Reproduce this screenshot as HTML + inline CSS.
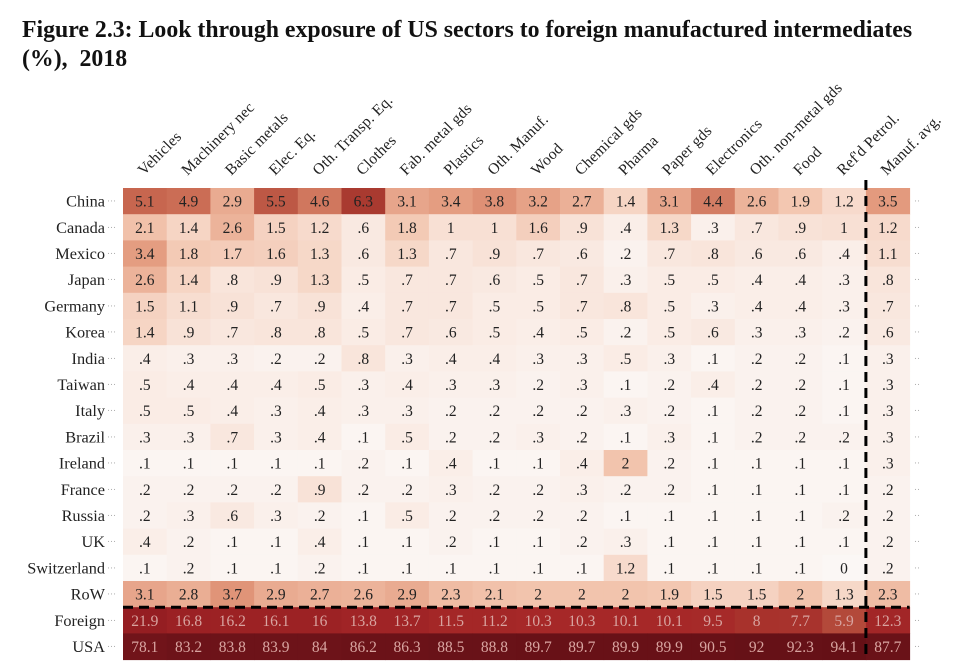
<!DOCTYPE html>
<html><head><meta charset="utf-8"><style>
body{margin:0;background:#fff;width:975px;height:664px;overflow:hidden;font-family:"Liberation Serif",serif;}
#title{position:absolute;left:22px;top:16px;font-weight:bold;font-size:23.8px;line-height:29px;color:#111;white-space:nowrap;}
</style></head><body>
<div id="title">Figure 2.3: Look through exposure of US sectors to foreign manufactured intermediates<br>(%),&nbsp; 2018</div>
<svg id="chart" width="975" height="664" style="position:absolute;left:0;top:0"></svg>
<script>
const sectors=["Vehicles","Machinery nec","Basic metals","Elec. Eq.","Oth. Transp. Eq.","Clothes","Fab. metal gds","Plastics","Oth. Manuf.","Wood","Chemical gds","Pharma","Paper gds","Electronics","Oth. non-metal gds","Food","Ref'd Petrol.","Manuf. avg."];
const countries=["China","Canada","Mexico","Japan","Germany","Korea","India","Taiwan","Italy","Brazil","Ireland","France","Russia","UK","Switzerland","RoW","Foreign","USA"];
const values=[
[5.1,4.9,2.9,5.5,4.6,6.3,3.1,3.4,3.8,3.2,2.7,1.4,3.1,4.4,2.6,1.9,1.2,3.5],
[2.1,1.4,2.6,1.5,1.2,.6,1.8,1,1,1.6,.9,.4,1.3,.3,.7,.9,1,1.2],
[3.4,1.8,1.7,1.6,1.3,.6,1.3,.7,.9,.7,.6,.2,.7,.8,.6,.6,.4,1.1],
[2.6,1.4,.8,.9,1.3,.5,.7,.7,.6,.5,.7,.3,.5,.5,.4,.4,.3,.8],
[1.5,1.1,.9,.7,.9,.4,.7,.7,.5,.5,.7,.8,.5,.3,.4,.4,.3,.7],
[1.4,.9,.7,.8,.8,.5,.7,.6,.5,.4,.5,.2,.5,.6,.3,.3,.2,.6],
[.4,.3,.3,.2,.2,.8,.3,.4,.4,.3,.3,.5,.3,.1,.2,.2,.1,.3],
[.5,.4,.4,.4,.5,.3,.4,.3,.3,.2,.3,.1,.2,.4,.2,.2,.1,.3],
[.5,.5,.4,.3,.4,.3,.3,.2,.2,.2,.2,.3,.2,.1,.2,.2,.1,.3],
[.3,.3,.7,.3,.4,.1,.5,.2,.2,.3,.2,.1,.3,.1,.2,.2,.2,.3],
[.1,.1,.1,.1,.1,.2,.1,.4,.1,.1,.4,2,.2,.1,.1,.1,.1,.3],
[.2,.2,.2,.2,.9,.2,.2,.3,.2,.2,.3,.2,.2,.1,.1,.1,.1,.2],
[.2,.3,.6,.3,.2,.1,.5,.2,.2,.2,.2,.1,.1,.1,.1,.1,.2,.2],
[.4,.2,.1,.1,.4,.1,.1,.2,.1,.1,.2,.3,.1,.1,.1,.1,.1,.2],
[.1,.2,.1,.1,.2,.1,.1,.1,.1,.1,.1,1.2,.1,.1,.1,.1,0,.2],
[3.1,2.8,3.7,2.9,2.7,2.6,2.9,2.3,2.1,2,2,2,1.9,1.5,1.5,2,1.3,2.3],
[21.9,16.8,16.2,16.1,16,13.8,13.7,11.5,11.2,10.3,10.3,10.1,10.1,9.5,8,7.7,5.9,12.3],
[78.1,83.2,83.8,83.9,84,86.2,86.3,88.5,88.8,89.7,89.7,89.9,89.9,90.5,92,92.3,94.1,87.7]
];
const NS="http://www.w3.org/2000/svg";
const svg=document.getElementById('chart');
const X0=123,CW=43.7,Y0=188,RH=26.2;
const xPos=i=>X0+i*CW, yPos=j=>Y0+j*RH;
const stops=[[0,[251,247,245]],[1,[248,224,212]],[2,[242,196,173]],[3.5,[227,154,126]],[5,[201,106,82]],[6.3,[169,58,48]],[10,[166,40,40]],[20,[150,30,34]],[80,[112,20,26]],[95,[100,16,22]]];
function color(v){for(let k=1;k<stops.length;k++){if(v<=stops[k][0]){const a=stops[k-1],b=stops[k];const t=(v-a[0])/(b[0]-a[0]);return 'rgb('+a[1].map((c,i)=>Math.round(c+(b[1][i]-c)*t)).join(',')+')';}}return 'rgb(100,16,22)';}
function fmt(v){let s=String(v);if(s.startsWith('0.'))s=s.slice(1);return s;}
function mk(tag,attrs){const e=document.createElementNS(NS,tag);for(const k in attrs)e.setAttribute(k,attrs[k]);svg.appendChild(e);return e;}
values.forEach((row,j)=>{row.forEach((v,i)=>{
 const r=mk('rect',{x:xPos(i),y:yPos(j),width:CW+0.5,height:RH+0.5,fill:color(v)});
 
 
 const t=mk('text',{x:xPos(i)+CW/2,y:yPos(j)+RH/2+5.5,'text-anchor':'middle','font-size':'15.5',fill:j>=16?'#d8a4a0':'#222'});
 t.textContent=fmt(v);
 
 
});
 const lab=mk('text',{x:105,y:yPos(j)+RH/2+5.5,'text-anchor':'end','font-size':'16.3',fill:'#222'});
 lab.textContent=countries[j];
 
 
 const d1=mk('text',{x:107,y:yPos(j)+RH/2+3,'font-size':'9',fill:'#aaa'});d1.textContent='···';
 
 
 const d2=mk('text',{x:914,y:yPos(j)+RH/2+3,'font-size':'9',fill:'#aaa'});d2.textContent='··';
 
 
});
sectors.forEach((s,i)=>{
 const cx=xPos(i)+CW/2-1, cy=176;
 const t=mk('text',{x:cx,y:cy,'font-size':'15.6','letter-spacing':'0.2',fill:'#222',transform:'rotate(-45 '+cx+' '+cy+')'});
 t.textContent=s;
 
 
});
const yEnd=yPos(countries.length), xD=xPos(17);
const vl=mk('line',{x1:xD,y1:yPos(0)-8,x2:xD,y2:yEnd,stroke:'#000','stroke-width':3,'stroke-dasharray':'10,6'});


const hl=mk('line',{x1:X0,y1:yPos(16),x2:xPos(18),y2:yPos(16),stroke:'#000','stroke-width':3,'stroke-dasharray':'10,6'});


</script>
</body></html>
